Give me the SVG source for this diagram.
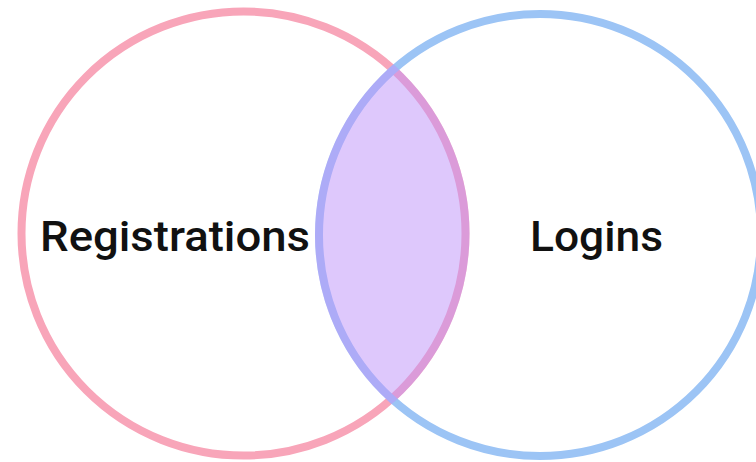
<svg xmlns="http://www.w3.org/2000/svg" width="756" height="462" viewBox="0 0 756 462">
<style>
.ring{fill:none;stroke-width:8}
.lbl{font-family:"Roboto","Liberation Sans",sans-serif;font-weight:500;font-size:42px;fill:#111}
</style>
<defs>
<clipPath id="clipL"><circle cx="243.5" cy="233.5" r="226"/></clipPath>
</defs>
<rect width="756" height="462" fill="#fff"/>
<g id="registrations">
<circle class="ring" cx="243.5" cy="233.5" r="222" stroke="#f8a5b9"/>
<text class="lbl" x="40" y="251" textLength="270" lengthAdjust="spacingAndGlyphs">Registrations</text>
</g>
<g id="logins">
<circle class="ring" cx="540" cy="235" r="221" stroke="#9cc4f5"/>
<text class="lbl" x="530" y="251" textLength="133" lengthAdjust="spacingAndGlyphs">Logins</text>
</g>
<g id="overlap">
<circle cx="540" cy="235" r="225" fill="#be91fa" fill-opacity="0.5" clip-path="url(#clipL)"/>
</g>
<g id="connectors"/>
</svg>
